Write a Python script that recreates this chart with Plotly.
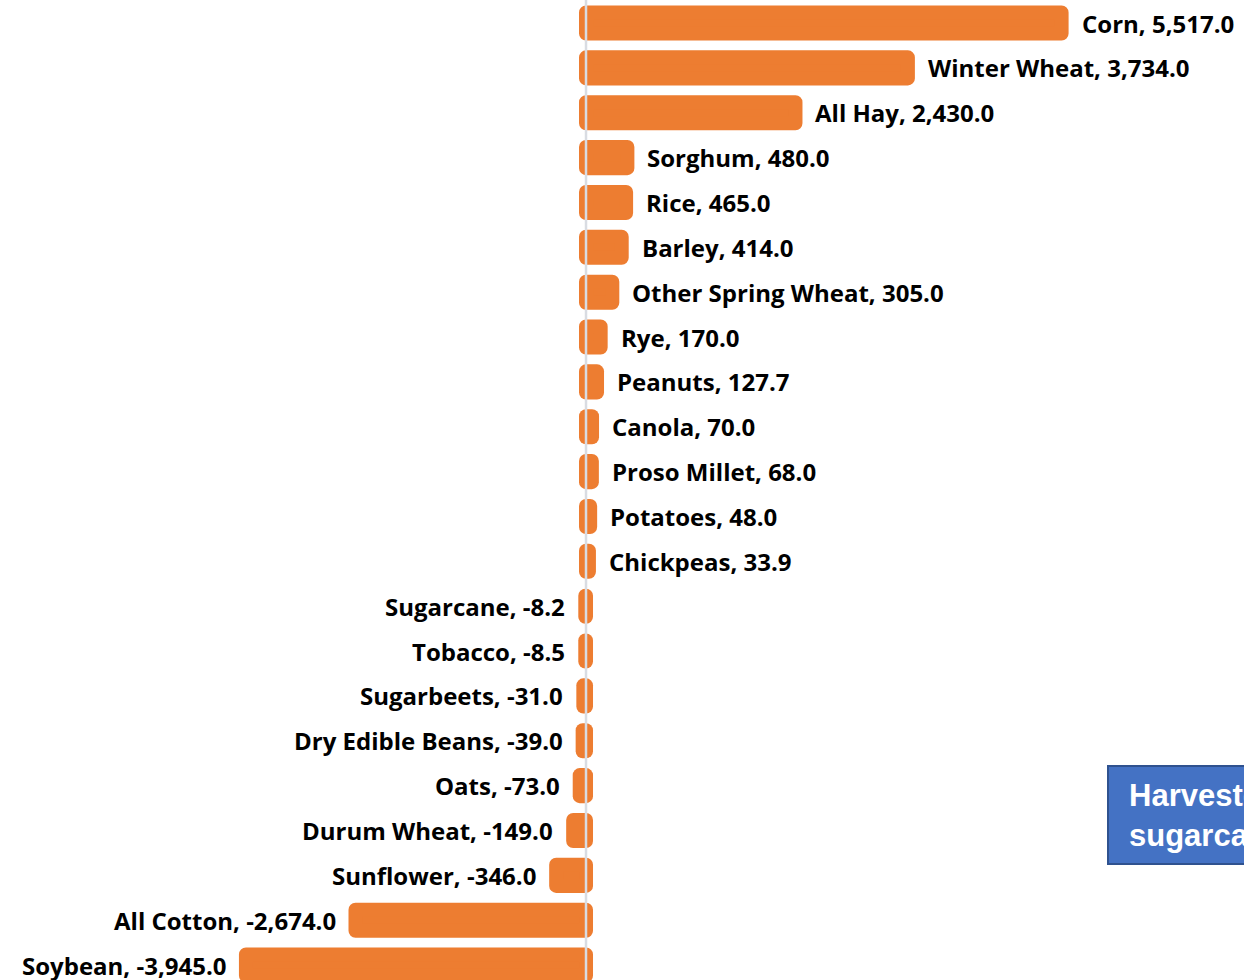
import plotly.graph_objects as go

# Change in planted/harvested acreage by crop (thousand acres)
crops = [
    "Corn", "Winter Wheat", "All Hay", "Sorghum", "Rice", "Barley",
    "Other Spring Wheat", "Rye", "Peanuts", "Canola", "Proso Millet",
    "Potatoes", "Chickpeas", "Sugarcane", "Tobacco", "Sugarbeets",
    "Dry Edible Beans", "Oats", "Durum Wheat", "Sunflower", "All Cotton",
    "Soybean",
]
changes = [
    5517.0, 3734.0, 2430.0, 480.0, 465.0, 414.0,
    305.0, 170.0, 127.7, 70.0, 68.0,
    48.0, 33.9, -8.2, -8.5, -31.0,
    -39.0, -73.0, -149.0, -346.0, -2674.0,
    -3945.0,
]

BAR_COLOR = "#ED7D31"
LABEL_FONT = dict(family="Open Sans", size=24, color="#000000")

fig = go.Figure()
fig.add_trace(go.Bar(
    x=changes,
    y=crops,
    orientation="h",
    width=0.47,
    marker=dict(color=BAR_COLOR, line=dict(color=BAR_COLOR, width=14)),
    hoverinfo="x+y",
))

# value labels next to the end of each bar
for name, val in zip(crops, changes):
    fig.add_annotation(
        x=val, y=name, xref="x", yref="y",
        text=f"<b>{name}, {val:,.1f}</b>",
        showarrow=False,
        xanchor="left" if val >= 0 else "right",
        xshift=18 if val >= 0 else -18,
        font=LABEL_FONT,
    )

# zero reference line drawn over the bars
fig.add_shape(
    type="line", xref="x", yref="paper",
    x0=0, x1=0, y0=0, y1=1,
    line=dict(color="#D9DCE2", width=2.5),
    layer="above",
)

# note box at the lower right
fig.add_shape(
    type="rect", xref="paper", yref="paper",
    x0=1108 / 1244, x1=1.3, y0=1 - 864 / 980, y1=1 - 766 / 980,
    fillcolor="#4472C4", line=dict(color="#2F528F", width=2),
    layer="above",
)
fig.add_annotation(
    xref="paper", yref="paper",
    x=1127 / 1244, y=1 - 815 / 980,
    xanchor="left", yanchor="middle", align="left",
    text="<b>Harvested area of<br>sugarcane</b>",
    showarrow=False,
    font=dict(family="Liberation Sans", size=31, color="#FFFFFF"),
)

fig.update_layout(
    width=1244, height=980,
    margin=dict(l=0, r=0, t=0, b=0),
    plot_bgcolor="#FFFFFF", paper_bgcolor="#FFFFFF",
    showlegend=False,
    xaxis=dict(range=[-6798, 7633], visible=False, showgrid=False, zeroline=False),
    yaxis=dict(
        type="category", categoryorder="array", categoryarray=crops,
        range=[21.333, -0.513], visible=False, showgrid=False, zeroline=False,
    ),
)

rounded_joins = (
    "var s=document.createElement('style');"
    "s.textContent='.bars .point path{stroke-linejoin:round !important;}';"
    "document.head.appendChild(s);"
)
fig.write_html("out.html", post_script=rounded_joins)
